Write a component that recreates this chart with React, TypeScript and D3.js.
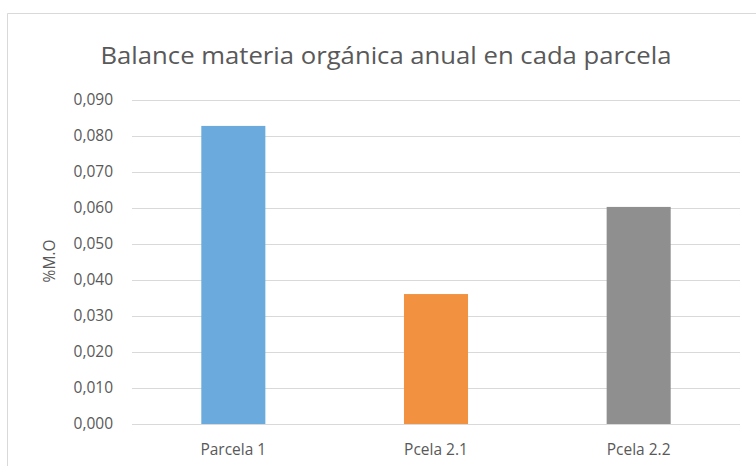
import React, { useEffect, useRef } from 'react';
import * as d3 from 'd3';

const categories = ['Parcela 1', 'Pcela 2.1', 'Pcela 2.2'];
const values = [0.0828, 0.0361, 0.0603];
const barColors = ['#6aaadc', '#f29241', '#8f8f8f'];
const yTicks = [0, 0.01, 0.02, 0.03, 0.04, 0.05, 0.06, 0.07, 0.08, 0.09];

const App = () => {
  const svgRef = useRef<SVGSVGElement>(null);

  useEffect(() => {
    const width = 756, height = 466;
    const margin = { top: 100, right: 16, bottom: 42, left: 132 };
    const font = '"Open Sans", "Liberation Sans", sans-serif';

    const svg = d3.select(svgRef.current);
    svg.selectAll('*').remove();

    svg.append('rect').attr('width', width).attr('height', height).attr('fill', '#fff');

    // chart border (only top and left visible in the crop)
    svg.append('path')
      .attr('d', `M7.5,${height} V13.5 H${width}`)
      .attr('fill', 'none')
      .attr('stroke', '#d9d9d9');

    const x = d3.scaleBand()
      .domain(categories)
      .range([margin.left, width - margin.right])
      .paddingInner(0.684)
      .paddingOuter(0.342);

    const y = d3.scaleLinear()
      .domain([0, 0.09])
      .range([height - margin.bottom, margin.top]);

    const fmt = (v: number) => d3.format('.3f')(v).replace('.', ',');

    // gridlines
    svg.append('g')
      .selectAll('line')
      .data(yTicks)
      .enter().append('line')
      .attr('x1', margin.left)
      .attr('x2', width - margin.right)
      .attr('y1', d => Math.round(y(d)) + 0.5)
      .attr('y2', d => Math.round(y(d)) + 0.5)
      .attr('stroke', '#d9d9d9')
      .attr('stroke-width', 1);

    // y tick labels
    svg.append('g')
      .selectAll('text')
      .data(yTicks)
      .enter().append('text')
      .attr('x', 113)
      .attr('y', d => y(d))
      .attr('dy', '0.35em')
      .attr('text-anchor', 'end')
      .attr('font-family', font)
      .attr('font-size', 15.5)
      .attr('fill', '#595959')
      .text(d => fmt(d));

    // bars
    svg.append('g')
      .selectAll('rect')
      .data(values)
      .enter().append('rect')
      .attr('x', (d, i) => x(categories[i]) as number)
      .attr('y', d => y(d))
      .attr('width', x.bandwidth())
      .attr('height', d => y(0) - y(d))
      .attr('fill', (d, i) => barColors[i]);

    // category labels
    svg.append('g')
      .selectAll('text')
      .data(categories)
      .enter().append('text')
      .attr('x', d => (x(d) as number) + x.bandwidth() / 2)
      .attr('y', 455)
      .attr('text-anchor', 'middle')
      .attr('font-family', font)
      .attr('font-size', 15.5)
      .attr('fill', '#595959')
      .text(d => d);

    // axis title
    svg.append('text')
      .attr('transform', 'translate(55,261) rotate(-90)')
      .attr('text-anchor', 'middle')
      .attr('font-family', font)
      .attr('font-size', 15.5)
      .attr('fill', '#595959')
      .text('%M.O');

    // chart title
    svg.append('text')
      .attr('x', 386)
      .attr('y', 64)
      .attr('text-anchor', 'middle')
      .attr('font-family', font)
      .attr('font-size', 24)
      .attr('fill', '#595959')
      .attr('textLength', 571)
      .attr('lengthAdjust', 'spacingAndGlyphs')
      .text('Balance materia orgánica anual en cada parcela');
  }, []);

  return <svg ref={svgRef} width={756} height={466} style={{ position: 'absolute', left: 0, top: 0 }} />;
};

export default App;
